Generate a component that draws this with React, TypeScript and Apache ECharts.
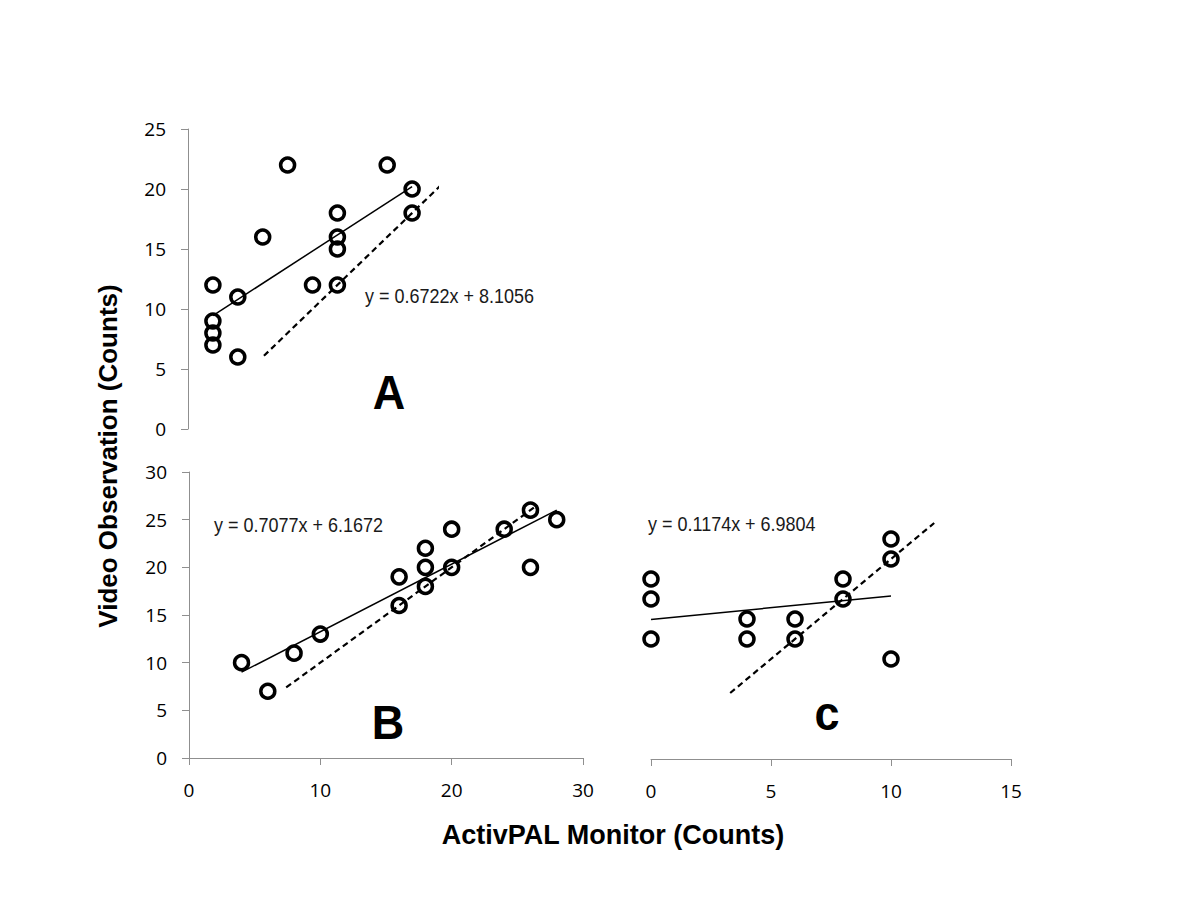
import React, { useEffect, useRef } from "react";
import * as echarts from "echarts";

// Panel A data
const panelAX = [2, 2, 2, 2, 4, 4, 6, 8, 10, 12, 12, 12, 12, 16, 18, 18];
const panelAY = [12, 9, 8, 7, 11, 6, 16, 22, 12, 18, 16, 15, 12, 22, 20, 18];
// Panel B data
const panelBX = [4, 6, 8, 10, 16, 16, 18, 18, 18, 20, 20, 24, 26, 26, 28];
const panelBY = [10, 7, 11, 13, 19, 16, 22, 20, 18, 24, 20, 24, 26, 20, 25];
// Panel C data
const panelCX = [0, 0, 0, 4, 4, 6, 6, 8, 8, 10, 10, 10];
const panelCY = [9, 8, 6, 7, 6, 7, 6, 9, 8, 11, 10, 5];

const trendA = [[2, 9.45], [18, 20.2]];
const trendB = [[4, 9.0], [28, 26.0]];
const trendC = [[0, 6.98], [10, 8.15]];
// Identity (dashed) lines
const identA = [[6.1, 6.1], [21, 21]];
const identB = [[7.4, 7.4], [26.3, 26.3]];
const identC = [[3.3, 3.3], [11.8, 11.8]];

const eqA = "y = 0.6722x + 8.1056";
const eqB = "y = 0.7077x + 6.1672";
const eqC = "y = 0.1174x + 6.9804";
const panelLabels = ["A", "B", "c"];
const xTitle = "ActivPAL Monitor (Counts)";
const yTitle = "Video Observation (Counts)";

const zip = (xs: number[], ys: number[]) => xs.map((x, i) => [x, ys[i]]);

const AXIS_COLOR = "#8f8f8f";
const LABEL_STYLE = { color: "#000", fontFamily: "Open Sans", fontSize: 19 };

function shownAxis(gridIndex: number, min: number, max: number, interval: number, margin: number) {
  return {
    gridIndex,
    type: "value",
    min,
    max,
    interval,
    axisLine: { show: true, onZero: false, lineStyle: { color: AXIS_COLOR, width: 1 } },
    axisTick: { show: true, length: 7, lineStyle: { color: AXIS_COLOR } },
    axisLabel: { ...LABEL_STYLE, margin },
    splitLine: { show: false },
  };
}

function hiddenAxis(gridIndex: number, min: number, max: number) {
  return { gridIndex, type: "value", min, max, show: false, splitLine: { show: false } };
}

function scatter(idx: number, data: number[][]) {
  return {
    type: "scatter",
    xAxisIndex: idx,
    yAxisIndex: idx,
    data,
    symbol: "circle",
    symbolSize: 14,
    itemStyle: { color: "rgba(0,0,0,0)", borderColor: "#000", borderWidth: 3.5, opacity: 1 },
    emphasis: { disabled: true },
    z: 3,
  };
}

function line(idx: number, data: number[][], dashed: boolean) {
  return {
    type: "line",
    xAxisIndex: idx,
    yAxisIndex: idx,
    data,
    symbol: "none",
    showSymbol: false,
    lineStyle: dashed
      ? { color: "#000", width: 2.2, type: [6, 4] }
      : { color: "#000", width: 1.5 },
    z: 2,
  };
}

function eqText(text: string, x: number, y: number) {
  return {
    type: "text",
    x,
    y,
    scaleY: 1.15,
    style: {
      text,
      fill: "#1a1a1a",
      font: "18px 'Liberation Sans', Arial, sans-serif",
      align: "left",
      verticalAlign: "middle",
    },
  };
}

function bigLetter(text: string, x: number, y: number) {
  return {
    type: "text",
    x,
    y,
    scaleY: 1.05,
    style: {
      text,
      fill: "#000",
      font: "bold 45px 'Liberation Sans', Arial, sans-serif",
      align: "center",
      verticalAlign: "bottom",
    },
  };
}

export default function App() {
  const ref = useRef<HTMLDivElement>(null);

  useEffect(() => {
    if (!ref.current) return;
    const chart = echarts.init(ref.current, null, { renderer: "svg" });
    const option = {
      animation: false,
      backgroundColor: "#fff",
      grid: [
        { left: 188, top: 129, width: 249, height: 300 },
        { left: 189, top: 472, width: 394, height: 286 },
        { left: 651, top: 479, width: 360, height: 280 },
      ],
      xAxis: [
        hiddenAxis(0, 0, 20),
        shownAxis(1, 0, 30, 10, 22),
        shownAxis(2, 0, 15, 5, 22),
      ],
      yAxis: [
        shownAxis(0, 0, 25, 5, 22),
        shownAxis(1, 0, 30, 5, 22),
        hiddenAxis(2, 0, 14),
      ],
      series: [
        line(0, trendA, false),
        line(0, identA, true),
        scatter(0, zip(panelAX, panelAY)),
        line(1, trendB, false),
        line(1, identB, true),
        scatter(1, zip(panelBX, panelBY)),
        line(2, trendC, false),
        line(2, identC, true),
        scatter(2, zip(panelCX, panelCY)),
      ],
      graphic: [
        eqText(eqA, 365, 296),
        eqText(eqB, 214, 525),
        eqText(eqC, 648, 524),
        bigLetter(panelLabels[0], 389, 416),
        bigLetter(panelLabels[1], 388, 746),
        bigLetter(panelLabels[2], 827, 737),
        {
          type: "text",
          x: 613,
          y: 835,
          style: {
            text: xTitle,
            fill: "#000",
            font: "bold 27px 'Liberation Sans', Arial, sans-serif",
            align: "center",
            verticalAlign: "middle",
          },
        },
        {
          type: "text",
          x: 108,
          y: 456,
          rotation: Math.PI / 2,
          style: {
            text: yTitle,
            fill: "#000",
            font: "bold 26px 'Liberation Sans', Arial, sans-serif",
            align: "center",
            verticalAlign: "middle",
          },
        },
      ],
    };
    chart.setOption(option as any);
    return () => chart.dispose();
  }, []);

  return (
    <div
      ref={ref}
      style={{ position: "absolute", left: 0, top: 0, width: 1200, height: 900, background: "#fff" }}
    />
  );
}
